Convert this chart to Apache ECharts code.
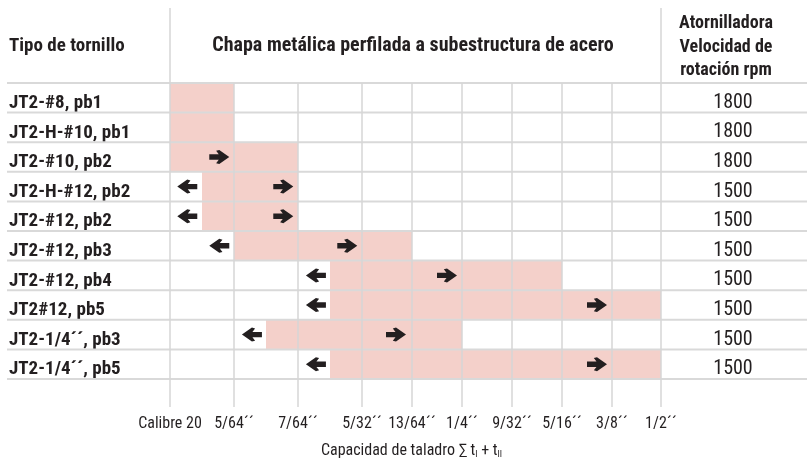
<!DOCTYPE html>
<html>
<head>
<meta charset="utf-8">
<script src="https://cdn.jsdelivr.net/npm/echarts@6/dist/echarts.min.js"></script>
<style>
html, body { margin: 0; padding: 0; background: #fff; }
#chart { width: 807px; height: 468px; }
</style>
</head>
<body>
<div id="chart"></div>
<script>
var screws = ['JT2-#8, pb1', 'JT2-H-#10, pb1', 'JT2-#10, pb2', 'JT2-H-#12, pb2', 'JT2-#12, pb2',
	'JT2-#12, pb3', 'JT2-#12, pb4', 'JT2#12, pb5', 'JT2-1/4´´, pb3', 'JT2-1/4´´, pb5'];
var rpm = [1800, 1800, 1800, 1500, 1500, 1500, 1500, 1500, 1500, 1500];
var drillLabels = ['Calibre 20', '5/64´´', '7/64´´', '5/32´´', '13/64´´', '1/4´´', '9/32´´', '5/16´´', '3/8´´', '1/2´´'];
// ranges in drill-grid columns (0 = Calibre 20 ... 9 = 1/2´´)
var rangeStart = [0, 0, 0, 0.5, 0.5, 1, 2.5, 2.5, 1.5, 2.5];
var rangeEnd = [1, 1, 2, 2, 2, 4, 7, 9, 5, 9];
var arrowLeft = [null, null, null, 0.27, 0.27, 0.77, 2.28, 2.28, 1.28, 2.28];
var arrowRight = [null, null, 0.77, 1.77, 1.77, 2.77, 4.7, 7.7, 3.68, 7.7];

// widths of the grid columns, the first three are wider
var colWidths = [64, 64, 64, 50, 50, 50, 50, 50, 49];
var colStart = [0];
for (var i = 0; i < colWidths.length; i++) {
	colStart.push(colStart[i] + colWidths[i]);
}
var last = colStart.length - 1;

function colX(pos) {
	var k = Math.min(Math.floor(pos), colWidths.length - 1);
	return colStart[k] + (pos - k) * colWidths[k];
}

var font = "'Roboto Condensed', 'DejaVu Sans Condensed', sans-serif";
var ink = '#231f20';
var arrowPath = 'path://M0,4 L9,4 L6.5,0.8 L9.5,0 L19,6.5 L9.5,13 L6.5,12.2 L9,9 L0,9 Z';

var cells = [];
var rights = [];
var lefts = [];
for (var i = 0; i < screws.length; i++) {
	cells.push([colX(rangeStart[i]), colX(rangeEnd[i]), i]);
	if (arrowRight[i] != null) rights.push([colX(arrowRight[i]), i]);
	if (arrowLeft[i] != null) lefts.push([colX(arrowLeft[i]), i]);
}
var rowLines = [];
for (var b = 0; b <= screws.length; b++) {
	rowLines.push([0, Math.min(b, screws.length - 1), b == screws.length ? 1 : 0]);
}
var colLines = colStart.map(function (v, k) {
	return [v, 0, (k == 0 || k == last) ? 1 : 0];
});

var myChart = echarts.init(document.getElementById('chart'));

var option = {
	animation: false,
	textStyle: { fontFamily: font, color: ink },
	grid: { left: 170, right: 146, top: 83, bottom: 89 },
	graphic: [
		{ type: 'text', x: 9, y: 46, style: { text: 'Tipo de tornillo', font: 'bold 19px ' + font, fill: ink, align: 'left', verticalAlign: 'middle' } },
		{ type: 'text', x: 413, y: 46, style: { text: 'Chapa metálica perfilada a subestructura de acero', font: 'bold 20px ' + font, fill: ink, align: 'center', verticalAlign: 'middle' } },
		{ type: 'text', x: 726, y: 47, style: { text: 'Atornilladora\nVelocidad de\nrotación rpm', font: 'bold 18px ' + font, lineHeight: 23.5, fill: ink, align: 'center', verticalAlign: 'middle' } }
	],
	xAxis: {
		type: 'value',
		min: 0,
		max: colStart[last],
		axisLine: { show: false },
		axisTick: { show: false },
		splitLine: { show: false },
		axisLabel: {
			customValues: colStart,
			formatter: function (v) {
				return drillLabels[colStart.indexOf(v)];
			},
			margin: 37,
			fontSize: 16,
			color: ink
		},
		name: '{a|Capacidad de taladro ∑ t}{s|I}{a| + t}{s|II}',
		nameLocation: 'middle',
		nameGap: 63,
		nameTextStyle: {
			padding: [0, 8, 0, 0],
			rich: {
				a: { fontSize: 16, color: ink, fontFamily: font },
				s: { fontSize: 9, color: ink, fontFamily: font, verticalAlign: 'bottom', padding: [8, 0, 0, 0] }
			}
		}
	},
	yAxis: [{
		type: 'category',
		data: screws,
		inverse: true,
		axisLine: { show: false },
		axisTick: { show: false },
		splitLine: { show: false },
		axisLabel: {
			interval: 0,
			align: 'left',
			margin: 161,
			formatter: function (v) {
				return '{a|' + v + '}';
			},
			rich: {
				a: { fontSize: 19, fontWeight: 'bold', color: ink, fontFamily: font, padding: [11, 0, 0, 0] }
			}
		}
	}, {
		type: 'category',
		data: screws,
		inverse: true,
		position: 'right',
		axisLine: { show: false },
		axisTick: { show: false },
		splitLine: { show: false },
		axisLabel: {
			interval: 0,
			align: 'center',
			margin: 72,
			formatter: function (v, idx) {
				return '{a|' + rpm[idx] + '}';
			},
			rich: {
				a: { fontSize: 20, color: ink, fontFamily: font, padding: [10, 0, 0, 0] }
			}
		}
	}],
	series: [{
		type: 'custom',
		silent: true,
		z: 1,
		encode: { x: [0, 1], y: 2 },
		data: cells,
		renderItem: function (params, api) {
			var a = api.coord([api.value(0), api.value(2)]);
			var b = api.coord([api.value(1), api.value(2)]);
			var h = api.size([0, 1])[1];
			return {
				type: 'rect',
				shape: { x: a[0], y: a[1] - h / 2, width: b[0] - a[0], height: h },
				style: { fill: '#f4d0ca' }
			};
		}
	}, {
		// row separators, running past the grid into the label columns
		type: 'custom',
		silent: true,
		z: 2,
		encode: { x: 0, y: 1 },
		data: rowLines,
		renderItem: function (params, api) {
			var c = api.coord([0, api.value(1)]);
			var h = api.size([0, 1])[1];
			var y = c[1] + (api.value(2) ? h / 2 : -h / 2);
			var cs = params.coordSys;
			return {
				type: 'line',
				shape: { x1: cs.x - 163, y1: y, x2: api.getWidth(), y2: y },
				style: { stroke: '#d9d9d9', lineWidth: 2 }
			};
		}
	}, {
		type: 'custom',
		silent: true,
		z: 2,
		encode: { x: 0, y: 1 },
		data: colLines,
		renderItem: function (params, api) {
			var x = api.coord([api.value(0), 0])[0];
			var cs = params.coordSys;
			return {
				type: 'line',
				shape: { x1: x, y1: api.value(2) ? 8 : cs.y, x2: x, y2: cs.y + cs.height + 28 },
				style: { stroke: '#d6d6d6', lineWidth: 1.5 }
			};
		}
	}, {
		type: 'scatter',
		silent: true,
		z: 5,
		symbol: arrowPath,
		symbolSize: [20, 14],
		itemStyle: { color: ink, opacity: 1 },
		data: rights
	}, {
		type: 'scatter',
		silent: true,
		z: 5,
		symbol: arrowPath,
		symbolSize: [20, 14],
		symbolRotate: 180,
		itemStyle: { color: ink, opacity: 1 },
		data: lefts
	}]
};

myChart.setOption(option);
</script>
</body>
</html>
